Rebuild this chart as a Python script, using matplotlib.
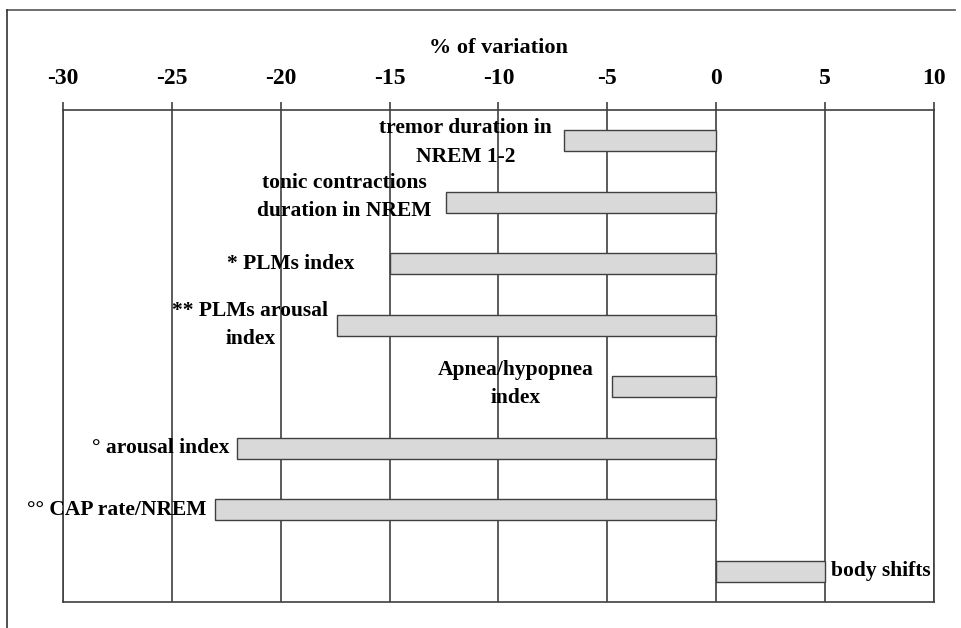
import matplotlib
matplotlib.use('Agg')
import matplotlib.pyplot as plt
from matplotlib.lines import Line2D

plt.rcParams['font.family'] = ['Liberation Serif', 'DejaVu Serif']
plt.rcParams['font.weight'] = 'bold'

# data (% of variation)
labels = ['tremor duration in\nNREM 1-2', 'tonic contractions\nduration in NREM',
          '* PLMs index', '** PLMs arousal\nindex', 'Apnea/hypopnea\nindex',
          '\u00b0 arousal index', '\u00b0\u00b0 CAP rate/NREM', 'body shifts']
values = [-7.0, -12.4, -15.0, -17.4, -4.8, -22.0, -23.0, 5.0]

# where each label sits (x in data units, alignment)
label_x = [-11.5, -17.1, -16.6, -21.4, -9.2, -22.35, -23.4, 5.25]
label_dy = [0.03, -0.08, 0.0, 0.0, -0.04, 0.0, 0.0, 0.0]
label_ha = ['center', 'center', 'right', 'center', 'center', 'right', 'right', 'left']

ticks = [-30, -25, -20, -15, -10, -5, 0, 5, 10]

fig = plt.figure(figsize=(9.62, 6.28), dpi=100)
ax = fig.add_axes([63/962, 1 - 602/628, (934-63)/962, (602-110)/628])

pos = list(range(len(values)))
ax.barh(pos, values, height=0.34, color='#d9d9d9', edgecolor='#404040',
        linewidth=1.0, zorder=3)

for i, (lab, lx, dy, ha) in enumerate(zip(labels, label_x, label_dy, label_ha)):
    ax.text(lx, i + dy, lab, ha=ha, va='center', fontsize=15.5,
            fontweight='bold', linespacing=1.55, zorder=4)

ax.set_xlim(-30, 10)
ax.set_ylim(len(values) - 0.5, -0.5)
ax.set_xticks(ticks)
ax.set_xticklabels([str(t) for t in ticks])
ax.set_yticks([])
ax.xaxis.tick_top()
ax.xaxis.set_label_position('top')
ax.tick_params(axis='x', direction='out', length=6, width=1.2, color='#404040',
               labelsize=17, pad=9)
for lbl in ax.get_xticklabels():
    lbl.set_fontweight('bold')
ax.set_xlabel('% of variation', fontsize=16, fontweight='bold', labelpad=11)
ax.grid(True, axis='x', color='#404040', linewidth=1.2, zorder=1)
for s in ax.spines.values():
    s.set_color('#404040')
    s.set_linewidth(1.2)

# outer frame (top and left edges visible)
fig.add_artist(Line2D([7/962, 955/962], [1 - 10/628, 1 - 10/628],
                      transform=fig.transFigure, color='#555555', lw=1.2))
fig.add_artist(Line2D([7/962, 7/962], [0, 1 - 10/628],
                      transform=fig.transFigure, color='#333333', lw=1.2))

fig.savefig('out.png', dpi=100)
